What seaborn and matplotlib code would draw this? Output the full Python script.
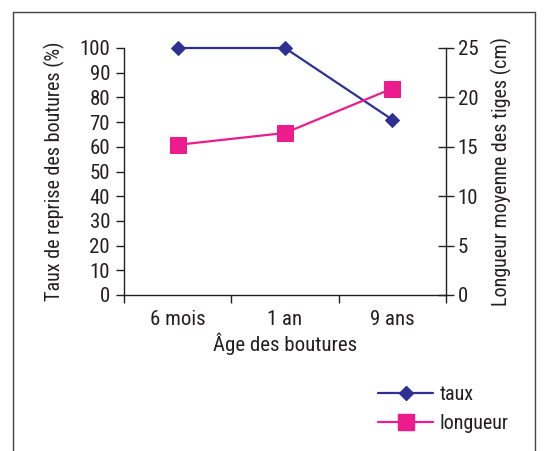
import matplotlib
matplotlib.use("Agg")
import matplotlib.pyplot as plt
import seaborn as sns
import pandas as pd
from matplotlib.lines import Line2D
from matplotlib.ticker import FixedLocator
from matplotlib import font_manager as fm

categories = ["6 mois", "1 an", "9 ans"]
taux = [100, 100, 71]
longueur = [15.2, 16.4, 20.9]
left_ticks = list(range(0, 101, 10))
right_ticks = list(range(0, 26, 5))

sns.set_theme(style="white")
available = {f.name for f in fm.fontManager.ttflist}
fams = [f for f in ['Roboto Condensed', 'Archivo Narrow', 'PT Sans Narrow',
                    'Liberation Sans Narrow', 'Open Sans Condensed'] if f in available]
plt.rcParams['font.family'] = fams[:1] + ['DejaVu Sans']

BLUE = "#2E3192"
PINK = "#EC1C8C"
GREY = "#231F20"
FS = 15
LFS = 14.5

df = pd.DataFrame({"age": categories, "taux": taux, "longueur": longueur})

fig = plt.figure(figsize=(5.45, 4.51), dpi=100)
ax = fig.add_axes([124/545, 1-295/451, (446-124)/545, (295-48)/451])
ax2 = ax.twinx()

sns.lineplot(data=df, x="age", y="taux", ax=ax, color=BLUE, marker="D",
             markersize=7.6, markeredgecolor=BLUE, linewidth=1.6, sort=False,
             clip_on=False, zorder=5)
sns.lineplot(data=df, x="age", y="longueur", ax=ax2, color=PINK, marker="s",
             markersize=12, markeredgecolor=PINK, linewidth=1.6, sort=False,
             clip_on=False, zorder=5)

ax.set_xlim(-0.5, 2.5)
ax.set_ylim(0, 100)
ax2.set_ylim(0, 25)
ax.set_yticks(left_ticks)
ax2.set_yticks(right_ticks)
ax.set_xticks([0, 1, 2])
ax.set_xticklabels(categories)
ax.xaxis.set_minor_locator(FixedLocator([-0.5, 0.5, 1.5, 2.5]))

for a in (ax, ax2):
    for s in a.spines.values():
        s.set_visible(False)
    a.grid(False)
ax.spines['left'].set_visible(True)
ax.spines['bottom'].set_visible(True)
ax2.spines['right'].set_visible(True)
for s in (ax.spines['left'], ax.spines['bottom'], ax2.spines['right']):
    s.set_color(GREY)
    s.set_linewidth(1.0)

ax.tick_params(axis='y', which='major', direction='out', length=6, width=1,
               color=GREY, labelsize=FS, labelcolor=GREY, pad=4, left=True)
ax.tick_params(axis='x', which='major', length=0, labelsize=FS, labelcolor=GREY, pad=11)
ax.tick_params(axis='x', which='minor', direction='out', length=6, width=1,
               color=GREY, bottom=True)
ax2.tick_params(axis='y', which='major', direction='inout', length=11, width=1,
                color=GREY, labelsize=FS, labelcolor=GREY, pad=3, right=True)

ax.set_xlabel("Âge des boutures", fontsize=FS, color=GREY, labelpad=2)
ax.set_ylabel("Taux de reprise des boutures (%)", fontsize=LFS, color=GREY, labelpad=10)
ax2.set_ylabel("Longueur moyenne des tiges (cm)", fontsize=LFS, color=GREY, labelpad=9)

handles = [Line2D([], [], color=BLUE, marker="D", markersize=7.6, linewidth=1.6),
           Line2D([], [], color=PINK, marker="s", markersize=12, linewidth=1.6)]
fig.legend(handles, ["taux", "longueur"], loc="upper left",
           bbox_to_anchor=(364/545, 1-371/451), frameon=False, fontsize=LFS,
           handlelength=2.75, labelspacing=0.5, handletextpad=0.3,
           labelcolor=GREY, borderpad=0.2)

# outer frame (open at the bottom)
fw = 1.0
fc = "#444444"
fig.add_artist(Line2D([13/545, 13/545], [0, 1-12/451], transform=fig.transFigure, color=fc, linewidth=fw))
fig.add_artist(Line2D([535/545, 535/545], [0, 1-12/451], transform=fig.transFigure, color=fc, linewidth=fw))
fig.add_artist(Line2D([13/545, 535/545], [1-12/451, 1-12/451], transform=fig.transFigure, color=fc, linewidth=fw))

fig.savefig("out.png", dpi=100)
